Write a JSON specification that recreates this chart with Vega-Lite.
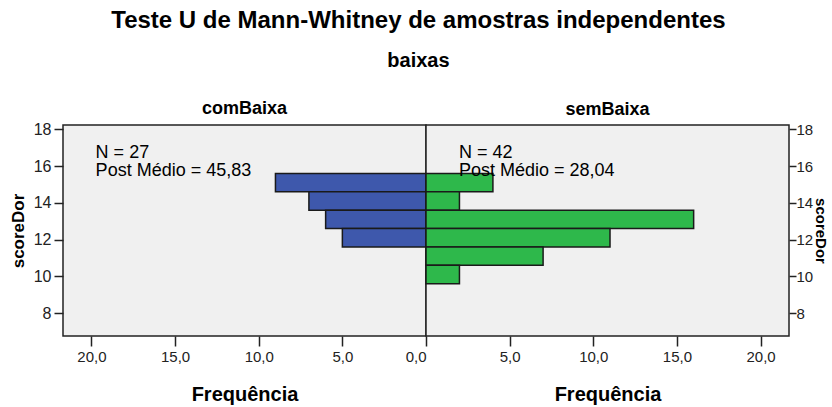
{
  "$schema": "https://vega.github.io/schema/vega-lite/v6.json",
  "padding": {"left": 8, "top": 9, "right": 0, "bottom": 0},
  "background": "#ffffff",
  "bounds": "flush",
  "config": {
    "locale": {"number": {"decimal": ",", "thousands": ".", "grouping": [3], "currency": ["", ""]}},
    "font": "Liberation Sans",
    "view": {"fill": "#f0f0f0", "stroke": "#222222", "strokeWidth": 1.5},
    "axis": {
      "grid": false, "domain": false, "tickColor": "#222222", "tickWidth": 1.5,
      "labelColor": "#222222", "labelFont": "Liberation Sans", "labelFontSize": 15,
      "titleFont": "Liberation Sans", "titleFontWeight": "bold", "titleColor": "#000000"
    },
    "concat": {"spacing": 0}
  },
  "title": {
    "text": "Teste U de Mann-Whitney de amostras independentes",
    "subtitle": "baixas",
    "font": "Liberation Sans", "fontSize": 24, "fontWeight": "bold", "color": "#000000",
    "subtitleFont": "Liberation Sans", "subtitleFontSize": 20, "subtitleFontWeight": "bold", "subtitleColor": "#000000",
    "subtitlePadding": 18, "offset": 28, "anchor": "middle"
  },
  "datasets": {
    "bars": [
      {"grupo": "comBaixa", "lo": 14.6, "hi": 15.6, "freq": 9},
      {"grupo": "comBaixa", "lo": 13.6, "hi": 14.6, "freq": 7},
      {"grupo": "comBaixa", "lo": 12.6, "hi": 13.6, "freq": 6},
      {"grupo": "comBaixa", "lo": 11.6, "hi": 12.6, "freq": 5},
      {"grupo": "semBaixa", "lo": 14.6, "hi": 15.6, "freq": 4},
      {"grupo": "semBaixa", "lo": 13.6, "hi": 14.6, "freq": 2},
      {"grupo": "semBaixa", "lo": 12.6, "hi": 13.6, "freq": 16},
      {"grupo": "semBaixa", "lo": 11.6, "hi": 12.6, "freq": 11},
      {"grupo": "semBaixa", "lo": 10.6, "hi": 11.6, "freq": 7},
      {"grupo": "semBaixa", "lo": 9.6, "hi": 10.6, "freq": 2}
    ],
    "labels": [
      {"grupo": "comBaixa", "x": 19.75, "y": 17.2, "texto": "N = 27\nPost Médio = 45,83"},
      {"grupo": "semBaixa", "x": 1.97, "y": 17.2, "texto": "N = 42\nPost Médio = 28,04"}
    ]
  },
  "hconcat": [
    {
      "width": 363, "height": 211,
      "title": {"text": "comBaixa", "font": "Liberation Sans", "fontSize": 18, "fontWeight": "bold", "color": "#000000", "offset": 3},
      "layer": [
        {
          "data": {"name": "bars"},
          "transform": [{"filter": "datum.grupo === 'comBaixa'"}],
          "mark": {"type": "bar", "fill": "#3e58ac", "stroke": "#1a1a1a", "strokeWidth": 1.5},
          "encoding": {
            "x": {"field": "freq", "type": "quantitative",
                  "scale": {"domain": [0, 21.7], "reverse": true, "nice": false, "zero": true},
                  "axis": {"values": [0, 5, 10, 15, 20], "format": ".1f", "title": "Frequência", "titleFontSize": 20, "tickSize": 10, "labelPadding": 3, "titlePadding": 20}},
            "x2": {"datum": 0},
            "y": {"field": "lo", "type": "quantitative",
                  "scale": {"domain": [6.76, 18.23], "nice": false, "zero": false},
                  "axis": {"values": [8, 10, 12, 14, 16, 18], "format": "d", "title": "scoreDor", "titleFontSize": 17, "labelFontSize": 16, "tickSize": 9, "labelPadding": 3, "titlePadding": 6}},
            "y2": {"field": "hi"}
          }
        },
        {
          "data": {"name": "labels"},
          "transform": [{"filter": "datum.grupo === 'comBaixa'"}],
          "mark": {"type": "text", "align": "left", "baseline": "top", "fontSize": 18, "lineHeight": 18, "lineBreak": "\n", "color": "#000000", "font": "Liberation Sans"},
          "encoding": {
            "x": {"field": "x", "type": "quantitative"},
            "y": {"field": "y", "type": "quantitative"},
            "text": {"field": "texto"}
          }
        }
      ]
    },
    {
      "width": 363, "height": 211,
      "title": {"text": "semBaixa", "font": "Liberation Sans", "fontSize": 18, "fontWeight": "bold", "color": "#000000", "offset": 3},
      "layer": [
        {
          "data": {"name": "bars"},
          "transform": [{"filter": "datum.grupo === 'semBaixa'"}],
          "mark": {"type": "bar", "fill": "#2eb84b", "stroke": "#1a1a1a", "strokeWidth": 1.5},
          "encoding": {
            "x": {"field": "freq", "type": "quantitative",
                  "scale": {"domain": [0, 21.7], "nice": false, "zero": true},
                  "axis": {"values": [5, 10, 15, 20], "format": ".1f", "title": "Frequência", "titleFontSize": 20, "tickSize": 10, "labelPadding": 3, "titlePadding": 20}},
            "x2": {"datum": 0},
            "y": {"field": "lo", "type": "quantitative",
                  "scale": {"domain": [6.76, 18.23], "nice": false, "zero": false},
                  "axis": {"orient": "right", "values": [8, 10, 12, 14, 16, 18], "format": "d", "title": "scoreDor", "titleFontSize": 15, "labelFontSize": 15, "titleAngle": 90, "tickSize": 7, "labelPadding": 0, "titlePadding": 0}},
            "y2": {"field": "hi"}
          }
        },
        {
          "data": {"name": "labels"},
          "transform": [{"filter": "datum.grupo === 'semBaixa'"}],
          "mark": {"type": "text", "align": "left", "baseline": "top", "fontSize": 18, "lineHeight": 18, "lineBreak": "\n", "color": "#000000", "font": "Liberation Sans"},
          "encoding": {
            "x": {"field": "x", "type": "quantitative"},
            "y": {"field": "y", "type": "quantitative"},
            "text": {"field": "texto"}
          }
        }
      ]
    }
  ]
}
